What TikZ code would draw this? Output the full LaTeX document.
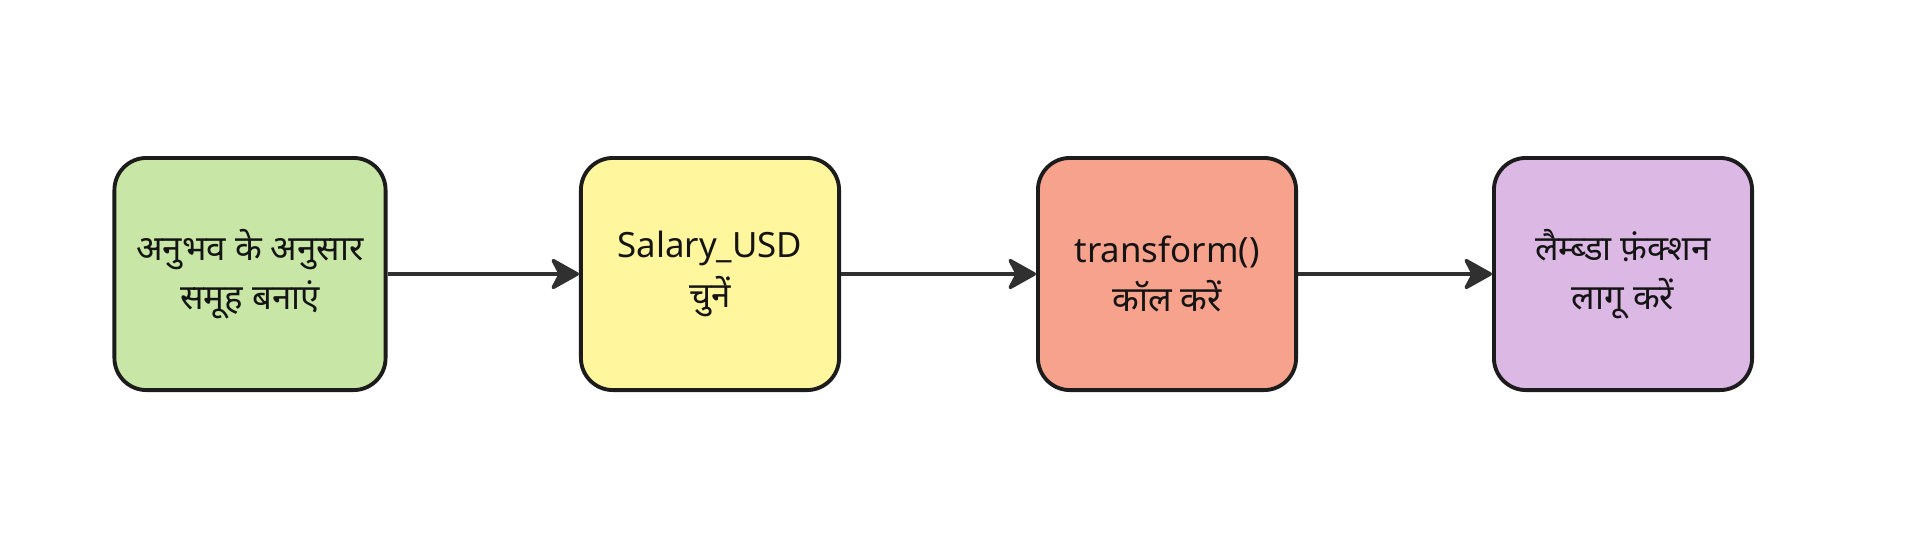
\documentclass[tikz,border=0pt]{standalone}
\usepackage{fontspec}
\usepackage{tikz}
\usetikzlibrary{arrows.meta}
\newfontfamily\deva[Script=Devanagari]{Noto Sans}
\definecolor{groupfill}{HTML}{C8E6A5}
\definecolor{selectfill}{HTML}{FFF69E}
\definecolor{callfill}{HTML}{F7A28D}
\definecolor{lambdafill}{HTML}{DCB8E4}
\definecolor{edge}{HTML}{1C1C1C}
\definecolor{flow}{HTML}{303030}

\begin{document}
\begin{tikzpicture}[x = 0.01cm, y = 0.01cm,
                        box/.style = {rectangle, rounded corners = 0.32cm, draw = edge, line width = 1.1pt,
                                      minimum width = 2.58cm, minimum height = 2.32cm, align = center,
                                      text = black!92, font = \deva\fontsize{9.9}{14}\selectfont},
                        flowline/.style = {draw = flow, line width = 1pt,
                                           -{Stealth[length = 9pt, width = 10pt, inset = 2.6pt, round]}}]
      \useasboundingbox (0, 0) rectangle (1912, 544);
      \node [box, fill = groupfill, minimum width = 2.71cm] (group) at (250, 270) {अनुभव के अनुसार\\समूह बनाएं};
      \node [box, fill = selectfill] (select) at (710, 270) {Salary\_USD\\चुनें};
      \node [box, fill = callfill] (call) at (1167, 270) {transform()\\कॉल करें};
      \node [box, fill = lambdafill] (lambda) at (1623, 270) {लैम्ब्डा फ़ंक्शन\\लागू करें};
      \draw [flowline] (group) -- (select);
      \draw [flowline] (select) -- (call);
      \draw [flowline] (call) -- (lambda);
    \end{tikzpicture}
\end{document}
